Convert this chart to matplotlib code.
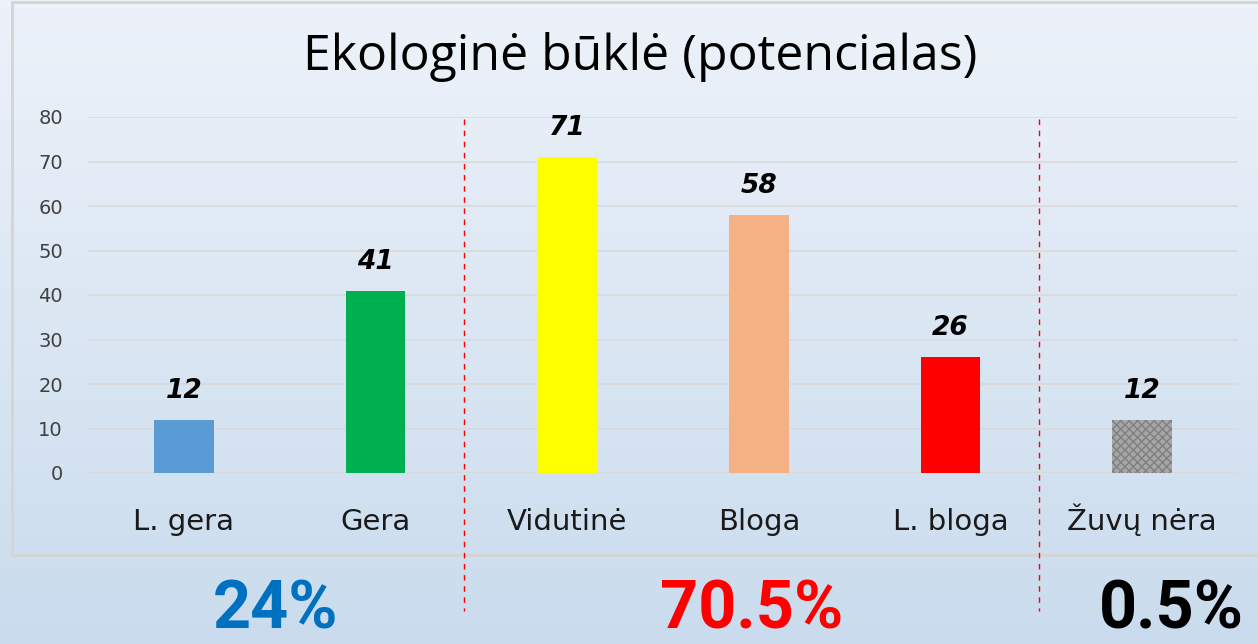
import numpy as np
import matplotlib.pyplot as plt
from matplotlib.patches import Rectangle

categories = ["L. gera", "Gera", "Vidutinė", "Bloga", "L. bloga", "Žuvų nėra"]
values = [12, 41, 71, 58, 26, 12]
bar_colors = ["#5b9bd5", "#00b050", "#ffff00", "#f4b183", "#ff0000", "#a6a6a6"]
group_labels = ["24%", "70.5%", "0.5%"]
group_colors = ["#0070c0", "#ff0000", "#000000"]
group_x = [0.48, 2.96, 5.15]
separators = [1.46, 4.46]

fig = plt.figure(figsize=(12.58, 6.44), dpi=100)

# gradient background
bg = fig.add_axes([0, 0, 1, 1], zorder=-10)
grad = np.linspace(0, 1, 256).reshape(-1, 1)
top = np.array([0.93, 0.95, 0.98])
bot = np.array([0.79, 0.86, 0.93])
img = top + (bot - top) * grad[:, :, None]
bg.imshow(img, aspect="auto", extent=[0, 1, 0, 1])
bg.add_patch(Rectangle((12 / 1258, 1 - 555 / 644), 1, 553 / 644, fill=False,
                       edgecolor="#d4d4d4", linewidth=2))
bg.set_xlim(0, 1)
bg.set_ylim(0, 1)
bg.axis("off")

ax = fig.add_axes([88 / 1258, 1 - 473 / 644, 1150 / 1258, 356 / 644])
ax.patch.set_alpha(0)
x = np.arange(len(categories))
bars = ax.bar(x, values, width=0.31, color=bar_colors, zorder=3)
bars[-1].set_hatch("xxxx")
bars[-1].set_edgecolor("#808080")
bars[-1].set_linewidth(0)

for xi, v in zip(x, values):
    ax.text(xi, v + 3.6, str(v), ha="center", va="bottom", fontsize=19,
            fontweight="bold", fontstyle="italic", family="DejaVu Sans")

ax.set_xlim(-0.5, len(categories) - 0.5)
ax.set_ylim(0, 80)
ax.set_yticks(range(0, 81, 10))
ax.yaxis.grid(True, color="#d9d9d9", linewidth=1.2, zorder=0)
ax.set_axisbelow(True)
for s in ax.spines.values():
    s.set_visible(False)
ax.tick_params(axis="both", length=0)
ax.tick_params(axis="y", labelsize=14, labelcolor="#404040", pad=18)
ax.set_xticks(x)
ax.set_xticklabels(categories, fontsize=21, color="#1a1a1a", family="DejaVu Sans")
for lab in ax.get_xticklabels():
    lab.set_va("baseline")
ax.tick_params(axis="x", pad=41)
ax.axhline(0, color="#d9d9d9", linewidth=1.2, zorder=1)

for sx in separators:
    ax.plot([sx, sx], [79.5, -31], color="#ff0000", linestyle=(0, (4, 4)),
            linewidth=1, clip_on=False, zorder=2)

for gx, gl, gc in zip(group_x, group_labels, group_colors):
    ax.text(gx, -31, gl, ha="center", va="center", fontsize=48, fontweight="bold",
            color=gc, family=["Roboto", "DejaVu Sans"], clip_on=False)

fig.text(0.509, 0.912, "Ekologinė būklė (potencialas)", ha="center", va="center",
         fontsize=36, color="#000000", family=["Open Sans", "DejaVu Sans"])

fig.savefig("out.png", dpi=100)
